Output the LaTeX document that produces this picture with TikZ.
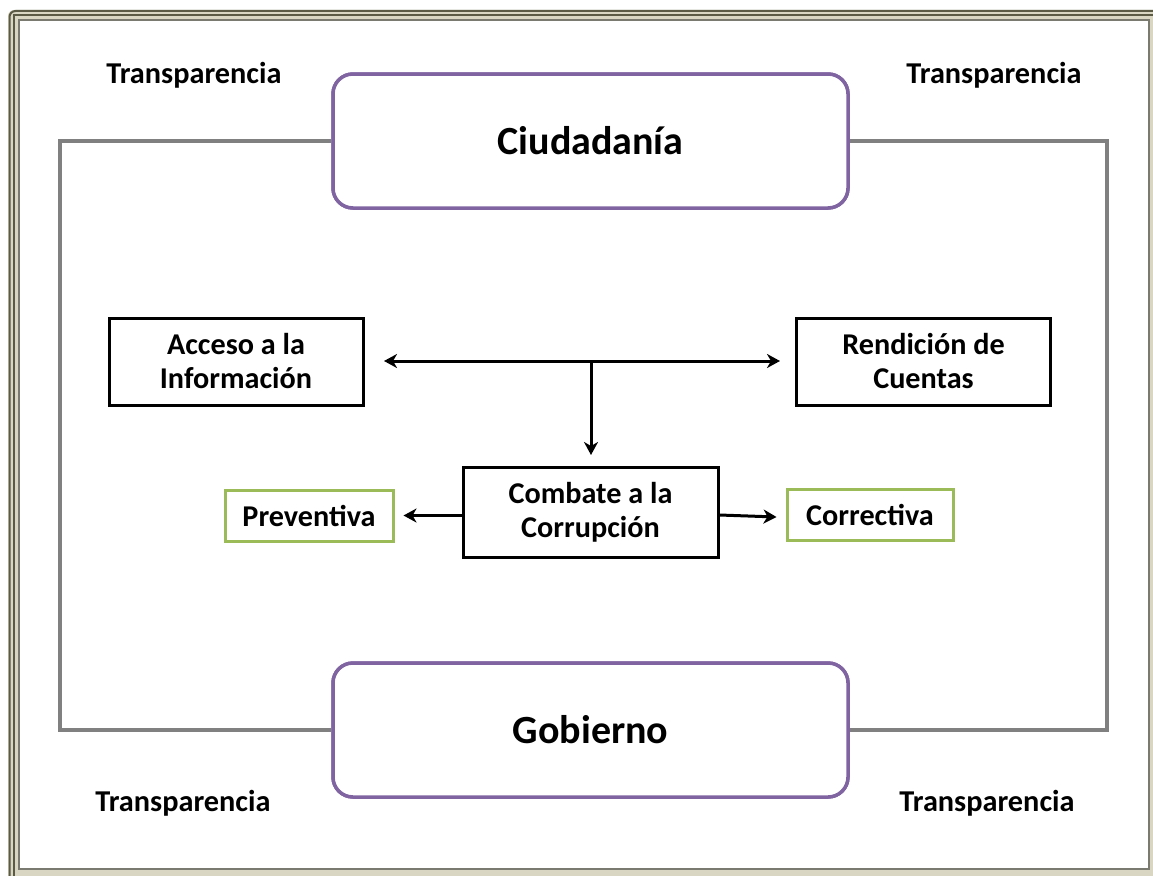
\documentclass[tikz,border=0pt]{standalone}
\usepackage{fontspec}
\setmainfont{Carlito}
\usetikzlibrary{arrows.meta}
\definecolor{frameDark}{HTML}{5B5A45}
\definecolor{frameLight}{HTML}{D9D6C3}
\definecolor{frameGray}{HTML}{7A7A70}
\definecolor{linkGray}{HTML}{808080}
\definecolor{purpleBox}{HTML}{8064A2}
\definecolor{greenBox}{HTML}{9BBB59}
\tikzset{
  main/.style={draw=purpleBox, line width=3.5pt, rounded corners=20pt, minimum width=515pt, minimum height=134pt, font=\bfseries\fontsize{40}{44}\selectfont, fill=white},
  concept/.style={draw=black, line width=3pt, minimum width=254pt, minimum height=87pt, align=center, font=\bfseries\fontsize{30.2}{34}\selectfont},
  combat/.style={draw=black, line width=3pt, minimum width=255pt, minimum height=90pt, align=center, font=\bfseries\fontsize{30.2}{34}\selectfont},
  kind/.style={draw=greenBox, line width=3pt, minimum height=51pt, font=\bfseries\fontsize{30.2}{34}\selectfont},
  lbl/.style={font=\bfseries\fontsize{30.3}{34}\selectfont},
  link/.style={draw=linkGray, line width=3.5pt},
  arr/.style={draw=black, line width=3pt, -{Stealth[length=13pt,width=14pt,inset=4pt]}},
  darr/.style={draw=black, line width=3pt, {Stealth[length=13pt,width=14pt,inset=4pt]}-{Stealth[length=13pt,width=14pt,inset=4pt]}}
}
\begin{document}
\begin{tikzpicture}[x=1pt,y=-1pt]
\useasboundingbox (0,0) rectangle (1153,875);
% frame
\fill[frameLight, rounded corners=6pt] (8,10) rectangle (1170,890);
\draw[frameDark, line width=2pt, rounded corners=6pt] (9.5,11) rectangle (1168,888);
\draw[frameDark, line width=2pt] (14,15.5) rectangle (1163,884);
\fill[white] (19.5,21) rectangle (1148,868);
\draw[frameGray, line width=2pt] (18.5,20) rectangle (1149,869);
% gray loop
\coordinate (tl) at (60,141);
\coordinate (tr) at (1107,141);
\coordinate (bl) at (60,730);
\coordinate (br) at (1107,730);
\node[main] (ciu) at (590.5,141) {Ciudadanía};
\node[main] (gob) at (590.5,730) {Gobierno};
\draw[link] (ciu.west) -- (tl) -- (bl) -- (gob.west);
\draw[link] (ciu.east) -- (tr) -- (br) -- (gob.east);
\node[main] at (590.5,141) {Ciudadanía};
\node[main] at (590.5,730) {Gobierno};
% labels
\node[lbl] (t1) at (194,75) {Transparencia};
\node[lbl] (t2) at (994,75) {Transparencia};
\node[lbl] (t3) at (183,803) {Transparencia};
\node[lbl] (t4) at (987,803) {Transparencia};
% concept boxes
\node[concept] (acc) at (236,361.5) {Acceso a la\\Información};
\node[concept] (ren) at (923.5,361.5) {Rendición de\\Cuentas};
\node[combat] (com) at (590.5,512) {Combate a la\\Corrupción};
\node[kind, minimum width=168pt] (pre) at (309,515.5) {Preventiva};
\node[kind, minimum width=166pt] (cor) at (870,515) {Correctiva};
% arrows
\coordinate (la) at (384,361);
\coordinate (ra) at (780,361);
\coordinate (mid) at (591,361);
\coordinate (dn) at (591,455);
\draw[darr] (la) -- (ra);
\draw[arr] (mid) -- (dn);
\draw[arr] (com.west |- pre.east) -- ([xshift=9pt]pre.east);
\draw[arr] (com.east |- 0,515) -- ([xshift=-9pt]cor.west |- 0,517);
\end{tikzpicture}
\end{document}
